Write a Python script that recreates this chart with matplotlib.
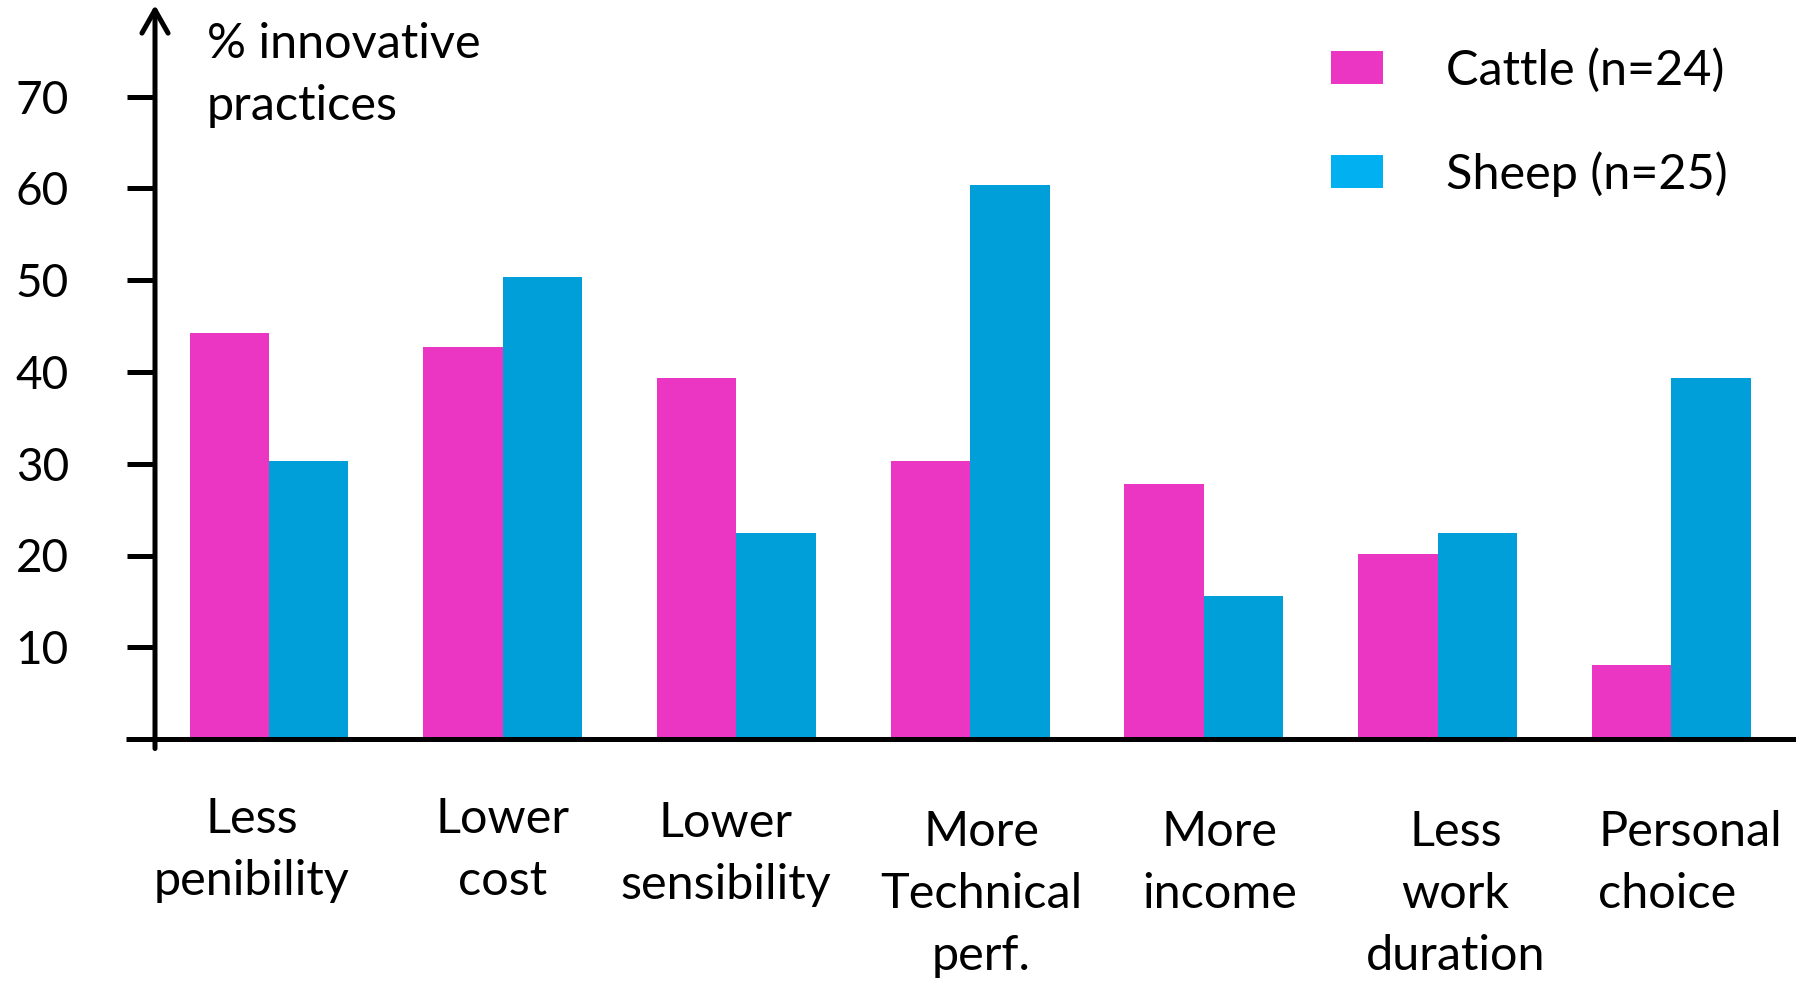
import numpy as np
import matplotlib.pyplot as plt
import matplotlib.transforms as mtransforms
from matplotlib.patches import Patch

categories = ['Less\npenibility', 'Lower\ncost', 'Lower\nsensibility', 'More\nTechnical\nperf.',
              'More\nincome', 'Less\nwork\nduration', 'Personal\nchoice']
cattle = [44.2, 42.7, 39.4, 30.3, 27.8, 20.2, 8.1]
sheep = [30.3, 50.3, 22.4, 60.4, 15.6, 22.4, 39.4]
yticks = [10, 20, 30, 40, 50, 60, 70]
legend_labels = ['Cattle (n=24)', 'Sheep (n=25)']

pink = '#EB35C3'
blue = '#009FD9'
blue_legend = '#00B0F0'

plt.rcParams['font.family'] = ['Lato', 'DejaVu Sans']
W, H = 1796, 984
fig = plt.figure(figsize=(W / 100, H / 100), dpi=100)
# axes: left spine at x=155px, baseline at y=739px, top at ~5px
ax = fig.add_axes([155 / W, (H - 739) / H, 1 - 155 / W, 734 / H])

x = np.arange(len(categories))
w = 0.34
ax.bar(x - w / 2, cattle, width=w, color=pink, linewidth=0)
ax.bar(x + w / 2, sheep, width=w, color=blue, linewidth=0)

ax.set_xlim(-0.488, 6.534)
ax.set_ylim(0, 80)
for s in ax.spines.values():
    s.set_visible(False)

ax.set_yticks(yticks)
ax.set_yticklabels([str(t) for t in yticks], fontsize=33)
ax.tick_params(axis='y', length=20, width=3.6, pad=42, direction='out')
ax.set_xticks(x)
ax.set_xticklabels(categories, fontsize=35, linespacing=1.5, va='top')
ax.tick_params(axis='x', length=0, pad=38)

# the hand-placed labels in the original sit a little off-centre
nudge_x = [-17, 0, -11, 11, 16, 18, 19]
nudge_y = [-5, -5, -9, -18, -18, -18, -18]
for lab, dx, dy in zip(ax.get_xticklabels(), nudge_x, nudge_y):
    off = mtransforms.ScaledTranslation(dx / 100, dy / 100, fig.dpi_scale_trans)
    lab.set_transform(lab.get_transform() + off)
ax.get_xticklabels()[-1].set_multialignment('left')

# x axis line (extends left to tick end)
ax.plot([-29 / 1641, 1], [0, 0], transform=ax.transAxes, color='black', lw=3.6,
        clip_on=False, solid_capstyle='butt')
# y axis with arrow
ax.annotate('', xy=(0, 1.0), xycoords='axes fraction', xytext=(0, -0.013),
            arrowprops=dict(arrowstyle='->, head_length=0.83, head_width=0.47',
                            mutation_scale=20, lw=3.6, color='black',
                            shrinkA=0, shrinkB=0))

fig.text(207 / W, 1 - 22 / H, '% innovative\npractices', fontsize=35, ha='left', va='top',
         linespacing=1.5)

handles = [Patch(facecolor=pink, edgecolor='none'), Patch(facecolor=blue_legend, edgecolor='none')]
fig.legend(handles, legend_labels, loc='upper left', bbox_to_anchor=(1331 / W, 1 - 48 / H),
           frameon=False, fontsize=35, handlelength=1.07, handleheight=0.66,
           handletextpad=1.3, labelspacing=1.2, borderpad=0, borderaxespad=0)

fig.savefig('out.png', dpi=100)
